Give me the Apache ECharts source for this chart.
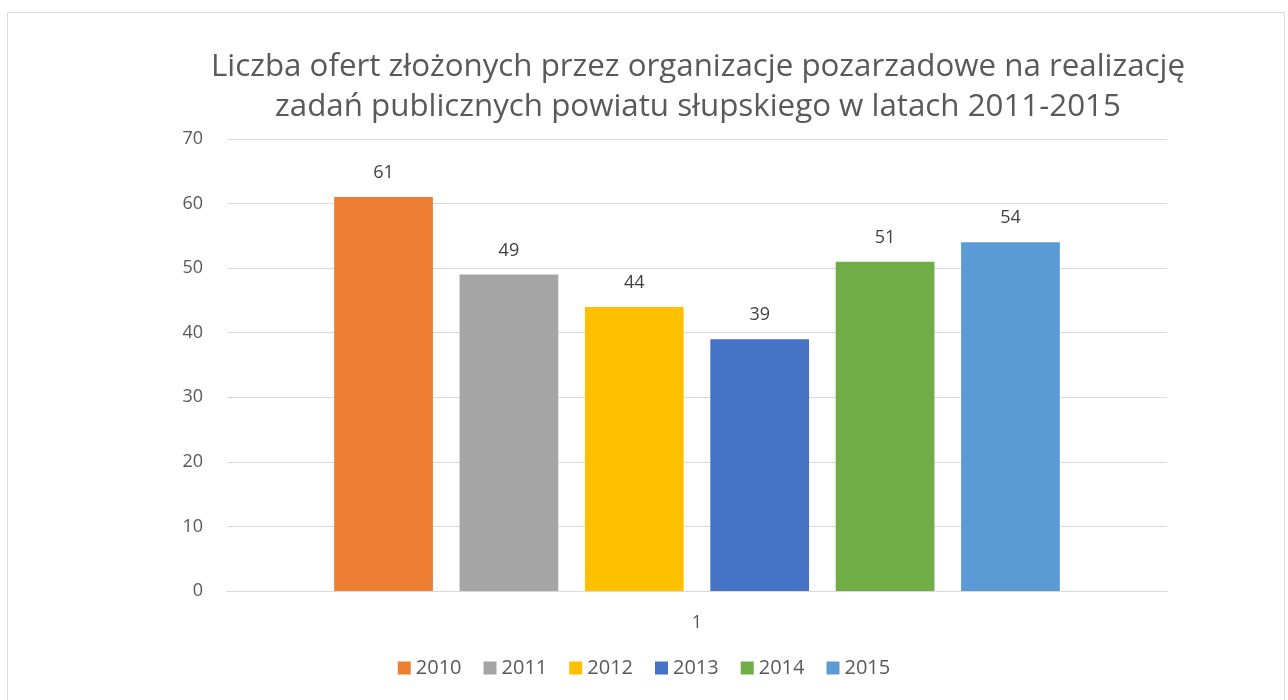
<!DOCTYPE html>
<html><head><meta charset="utf-8">
<script src="https://cdn.jsdelivr.net/npm/echarts@6/dist/echarts.min.js"></script>
<style>html,body{margin:0;padding:0;background:#fff}#c{width:1288px;height:700px}</style>
</head><body><div id="c"></div>
<script>
const titleLines = ["Liczba ofert złożonych przez organizacje pozarzadowe na realizację", "zadań publicznych powiatu słupskiego w latach 2011-2015"];
const categories = ["1"];
const seriesNames = ["2010", "2011", "2012", "2013", "2014", "2015"];
const seriesValues = [61, 49, 44, 39, 51, 54];
const colors = ["#ED7D31", "#A5A5A5", "#FFC000", "#4472C4", "#70AD47", "#5B9BD5"];
const yTicks = {min: 0, max: 70, interval: 10};

const font = "'Open Sans', 'Liberation Sans', sans-serif";
const chart = echarts.init(document.getElementById('c'));
chart.setOption({
  animation: false,
  color: colors,
  title: {
    text: titleLines.join('\n'),
    left: 693, top: 42, textAlign: 'center',
    textStyle: {fontFamily: font, fontSize: 31.3, fontWeight: 'normal', color: '#595959', lineHeight: 40}
  },
  graphic: [{
    type: 'rect', shape: {x: 7.5, y: 12.5, width: 1277, height: 700},
    style: {fill: 'none', stroke: '#d9d9d9', lineWidth: 1}, silent: true, z: -1
  }],
  legend: {
    bottom: 17, left: 'center', itemWidth: 13, itemHeight: 13, itemGap: 22,
    icon: 'rect',
    textStyle: {fontFamily: font, fontSize: 20, color: '#595959'},
    data: seriesNames
  },
  grid: {left: 227, right: 121, top: 139, bottom: 109},
  xAxis: {
    type: 'category', data: categories,
    axisLine: {lineStyle: {color: '#d9d9d9', width: 1}},
    axisTick: {show: false},
    axisLabel: {fontFamily: font, fontSize: 18, color: '#595959', margin: 23}
  },
  yAxis: {
    type: 'value', min: yTicks.min, max: yTicks.max, interval: yTicks.interval,
    axisLine: {show: false}, axisTick: {show: false},
    splitLine: {lineStyle: {color: '#d9d9d9', width: 1}},
    axisLabel: {fontFamily: font, fontSize: 18, color: '#595959', margin: 24}
  },
  series: seriesNames.map((n, i) => ({
    name: n, type: 'bar', data: [seriesValues[i]],
    barGap: '27%', barCategoryGap: '22.8%',
    label: {show: true, position: 'top', distance: 15, fontFamily: font, fontSize: 18, color: '#404040'}
  }))
});
</script></body></html>
